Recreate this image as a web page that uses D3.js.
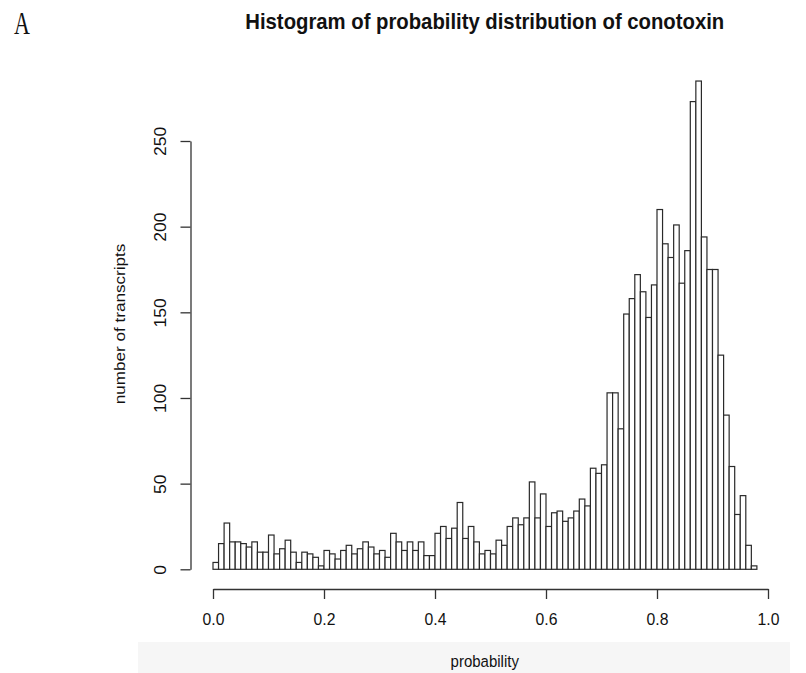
<!DOCTYPE html>
<html>
<head>
<meta charset="utf-8">
<script src="https://cdn.jsdelivr.net/npm/d3@7/dist/d3.min.js"></script>
<style>
  html, body { margin: 0; padding: 0; background: #fff; }
  svg { display: block; }
  text { font-family: "Liberation Sans", Arial, sans-serif; fill: #111; }
</style>
</head>
<body>
<svg id="chart" width="806" height="673"></svg>
<script>
// Histogram of conotoxin probability scores, bins of width 0.01 from 0 to 0.98
const binWidth = 0.01;
const binStarts = d3.range(0, 98).map(i => +(i * binWidth).toFixed(2));
const counts = [
  4, 15, 27, 16, 16, 15, 13, 16, 10, 10,
  20, 9, 12, 17, 10, 4, 10, 9, 7, 2,
  11, 9, 6, 11, 14, 9, 12, 16, 13, 9,
  11, 7, 21, 16, 11, 16, 11, 16, 8, 8,
  21, 25, 18, 24, 39, 18, 25, 16, 9, 11,
  9, 17, 14, 25, 30, 26, 30, 51, 30, 44,
  25, 33, 34, 28, 30, 34, 41, 37, 59, 56,
  61, 103, 103, 82, 149, 158, 172, 162, 147, 166,
  210, 190, 182, 201, 167, 186, 273, 285, 194, 175,
  175, 125, 90, 60, 32, 43, 14, 2
];
const xTicks = [0, 0.2, 0.4, 0.6, 0.8, 1.0];
const yTicks = [0, 50, 100, 150, 200, 250];

const title = "Histogram of probability distribution of conotoxin";
const xLabel = "probability";
const yLabel = "number of transcripts";
const panelTag = "A";

const svg = d3.select("#chart");

const x = d3.scaleLinear().domain([0, 1]).range([213, 768]);
const y = d3.scaleLinear().domain([0, 250]).range([569.3, 141]);

const axisX = 589;   // x axis sits below the bars
const axisY = 190.5; // y axis sits left of the bars
const stretch = 1.1;
const axisColor = "#333";

// light band behind the x-axis title
svg.append("rect")
  .attr("x", 138).attr("y", 642)
  .attr("width", 652).attr("height", 31)
  .attr("fill", "#f6f6f6");

// bars
svg.append("g")
  .selectAll("rect")
  .data(counts.map((c, i) => ({ x0: binStarts[i], count: c })))
  .join("rect")
  .attr("x", d => x(d.x0))
  .attr("y", d => y(d.count))
  .attr("width", d => x(d.x0 + binWidth) - x(d.x0))
  .attr("height", d => y(0) - y(d.count))
  .attr("fill", "#fff")
  .attr("stroke", "#2a2a2a")
  .attr("stroke-width", 1.2);

// x axis
const gx = svg.append("g")
  .attr("transform", `translate(0,${axisX})`)
  .call(d3.axisBottom(x).tickValues(xTicks).tickFormat(d3.format(".1f"))
    .tickSize(10).tickSizeOuter(0).tickPadding(0));
gx.select(".domain").attr("stroke", axisColor).attr("stroke-width", 1.3);
gx.selectAll(".tick line").attr("stroke", axisColor).attr("stroke-width", 1.3);
gx.selectAll(".tick text")
  .attr("y", null).attr("dy", null)
  .attr("transform", `translate(0,36) scale(1.05,1.15)`)
  .style("font-size", "15px")
  .style("font-family", "Liberation Sans, Arial, sans-serif")
  .attr("fill", "#111");

// y axis
const gy = svg.append("g")
  .attr("transform", `translate(${axisY},0)`)
  .call(d3.axisLeft(y).tickValues(yTicks).tickFormat(d3.format("d"))
    .tickSize(10).tickSizeOuter(0).tickPadding(0));
gy.select(".domain").attr("stroke", axisColor).attr("stroke-width", 1.3);
gy.selectAll(".tick line").attr("stroke", axisColor).attr("stroke-width", 1.3);
gy.selectAll(".tick text")
  .attr("x", null).attr("dy", null)
  .attr("text-anchor", "middle")
  .attr("transform", `translate(-24.5,0) rotate(-90) scale(1.17,1.05)`)
  .style("font-size", "15px")
  .style("font-family", "Liberation Sans, Arial, sans-serif")
  .attr("fill", "#111");

// titles
const cx = (axisY + 779) / 2;
svg.append("text")
  .attr("text-anchor", "middle")
  .attr("transform", `translate(${cx},29) scale(1,1.05)`)
  .style("font-size", "20.3px").style("font-weight", "bold")
  .text(title);

svg.append("text")
  .attr("text-anchor", "middle")
  .attr("transform", `translate(${cx},667) scale(1,${stretch})`)
  .style("font-size", "15px")
  .text(xLabel);

svg.append("text")
  .attr("text-anchor", "middle")
  .attr("transform", `translate(125,324) rotate(-90) scale(1.14,1)`)
  .style("font-size", "15px")
  .text(yLabel);

svg.append("text")
  .attr("x", 14).attr("y", 34)
  .attr("transform-origin", "14 34")
  .style("font-family", "Liberation Serif, DejaVu Serif, serif")
  .style("font-size", "25px")
  .attr("transform", "scale(0.88,1.25)")
  .text(panelTag);
</script>
</body>
</html>
